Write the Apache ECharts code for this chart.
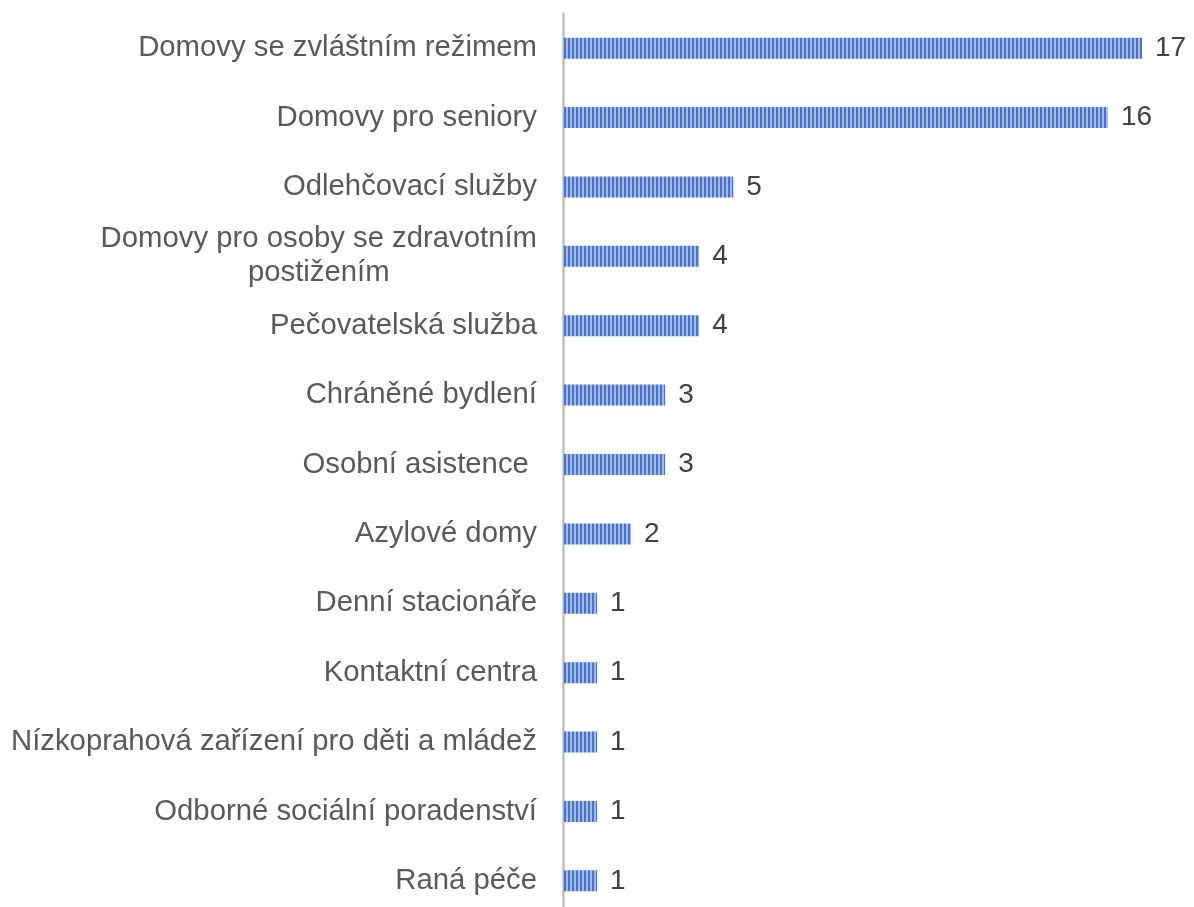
<!DOCTYPE html>
<html>
<head>
<meta charset="utf-8">
<script src="https://cdn.jsdelivr.net/npm/echarts@6/dist/echarts.min.js"></script>
<style>
  html, body { margin: 0; padding: 0; background: #fff; }
  #chart { width: 1194px; height: 907px; }
</style>
</head>
<body>
<div id="chart"></div>
<script>
// kategorie shora dolů
const categories = [
  'Domovy se zvláštním režimem',
  'Domovy pro seniory',
  'Odlehčovací služby',
  'Domovy pro osoby se zdravotním\npostižením',
  'Pečovatelská služba',
  'Chráněné bydlení',
  'Osobní asistence ',
  'Azylové domy',
  'Denní stacionáře',
  'Kontaktní centra',
  'Nízkoprahová zařízení pro děti a mládež',
  'Odborné sociální poradenství',
  'Raná péče'
];
const counts = [17, 16, 5, 4, 4, 3, 3, 2, 1, 1, 1, 1, 1];

// svislé proužky jako v Excelu
function stripes() {
  const c = document.createElement('canvas');
  c.width = 4;
  c.height = 4;
  const ctx = c.getContext('2d');
  ctx.fillStyle = '#a3bae8';
  ctx.fillRect(0, 0, 4, 4);
  ctx.fillStyle = '#4774c6';
  ctx.fillRect(0, 0, 2, 4);
  return c;
}

const font = 'Liberation Sans, Arial, sans-serif';

const chart = echarts.init(document.getElementById('chart'));
chart.setOption({
  animation: false,
  grid: {
    left: 563,
    top: 13.5,
    width: 613,
    height: 902,
    outerBoundsMode: 'none'
  },
  xAxis: {
    type: 'value',
    min: 0,
    max: 18,
    show: false
  },
  yAxis: {
    type: 'category',
    inverse: true,
    data: categories,
    axisLine: {
      show: true,
      lineStyle: { color: '#bfbfbf', width: 2.5 }
    },
    axisTick: { show: false },
    axisLabel: {
      margin: 26,
      fontFamily: font,
      fontSize: 29.3,
      color: '#595959',
      lineHeight: 34,
      formatter: function (value) {
        return value.split('\n').map(function (s) { return '{c|' + s + '}'; }).join('\n');
      },
      rich: {
        c: {
          align: 'center',
          fontFamily: font,
          fontSize: 29.3,
          color: '#595959',
          lineHeight: 34
        }
      }
    }
  },
  series: [
    {
      type: 'bar',
      data: counts,
      barWidth: 21,
      itemStyle: {
        color: { image: stripes(), repeat: 'repeat' }
      },
      label: {
        show: true,
        position: 'right',
        distance: 13,
        fontFamily: font,
        fontSize: 28,
        color: '#404040'
      }
    }
  ]
});
</script>
</body>
</html>
